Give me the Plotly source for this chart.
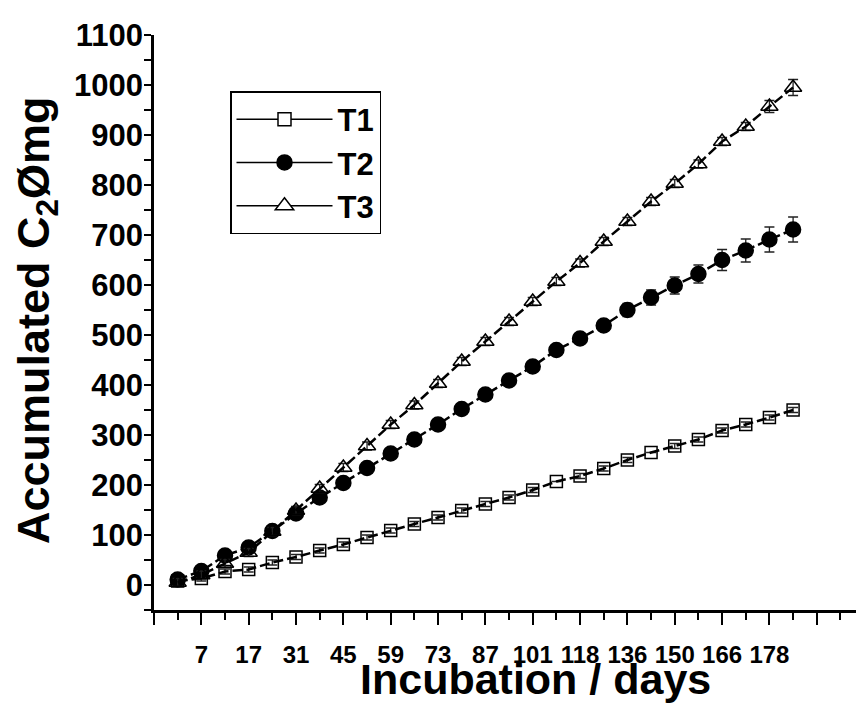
import plotly.graph_objects as go

# sample index along the x axis (points sit on every major and minor tick)
sample_idx = list(range(1, 28))
# labels shown on the major ticks (even sample indices)
tick_positions = [0, 2, 4, 6, 8, 10, 12, 14, 16, 18, 20, 22, 24, 26, 28, 30]
tick_labels = ["", "7", "17", "31", "45", "59", "73", "87", "101", "118", "136", "150", "166", "178", "", ""]

t1 = [8, 13, 27, 31, 45, 56, 69, 81, 95, 109, 122, 135, 149, 162, 175, 190, 207, 218, 233, 250, 265, 278, 291, 309, 321, 335, 350]
t1_err = [5, 5, 5, 5, 5, 5, 5, 5, 5, 5, 5, 5, 5, 5, 5, 5, 0, 5, 5, 5, 0, 5, 5, 5, 5, 5, 5]

t2 = [11, 28, 59, 75, 108, 143, 175, 204, 234, 263, 291, 321, 352, 381, 409, 437, 470, 493, 519, 550, 575, 599, 622, 650, 669, 691, 711]
t2_err = [3, 3, 4, 4, 5, 5, 5, 5, 6, 6, 6, 7, 7, 8, 8, 8, 9, 9, 10, 13, 15, 17, 18, 21, 23, 25, 25]

t3 = [5, 20, 43, 65, 107, 149, 193, 235, 278, 321, 360, 403, 447, 487, 527, 567, 607, 644, 687, 727, 767, 803, 842, 887, 917, 957, 995]
t3_err = [8, 8, 8, 8, 8, 8, 8, 8, 8, 8, 8, 8, 8, 8, 8, 8, 8, 8, 8, 8, 8, 8, 8, 8, 8, 12, 16]

FONT = "Arial, Liberation Sans, sans-serif"
fig = go.Figure()

series = [
    ("T1", t1, t1_err, "square-open", 12),
    ("T2", t2, t2_err, "circle", 15),
    ("T3", t3, t3_err, "triangle-up-open", 15),
]
for name, vals, err, sym, size in series:
    fig.add_trace(go.Scatter(
        x=sample_idx, y=vals, mode="lines+markers", name=name, showlegend=False,
        line=dict(color="black", width=2.5, dash="10px,4px"),
        marker=dict(symbol=sym, size=size, color="black", line=dict(color="black", width=1.5)),
        error_y=dict(type="data", array=err, visible=True, color="#222", thickness=1.3, width=5),
    ))

legend_symbols = [("T1", "square", "white", 13), ("T2", "circle", "black", 15), ("T3", "triangle-up", "white", 16)]
for name, sym, fill, size in legend_symbols:
    fig.add_trace(go.Scatter(
        x=[None], y=[None], mode="lines+markers", name=name,
        line=dict(color="black", width=1.5),
        marker=dict(symbol=sym, size=size, color=fill, line=dict(color="black", width=1.5)),
    ))

# page body adds an 8px offset; plot area on screen: x 154..864, y 35..610
L, T, W, H = 146, 27, 718, 575
fig.update_layout(
    width=864, height=705,
    margin=dict(l=L, r=0, t=T, b=705 - T - H, autoexpand=False),
    plot_bgcolor="white", paper_bgcolor="white",
    font=dict(family=FONT, color="black"),
    showlegend=True,
    legend=dict(
        x=(222 - L) / W, y=(T + H - 83) / H, xanchor="left", yanchor="top",
        bordercolor="black", borderwidth=1.5, bgcolor="white",
        font=dict(family=FONT, size=31, weight="bold", color="black"),
        itemwidth=96, tracegroupgap=0,
    ),
    xaxis=dict(
        range=[0, W / 23.67], showgrid=False, zeroline=False, automargin=False,
        showline=True, linecolor="black", linewidth=2.5,
        tickmode="array", tickvals=tick_positions, ticktext=tick_labels,
        ticks="outside", ticklen=12, tickwidth=2, tickcolor="black",
        ticklabelstandoff=9,
        tickfont=dict(family=FONT, size=24, weight="bold", color="black"),
        minor=dict(tickmode="linear", tick0=1, dtick=2, ticks="outside", ticklen=7, tickwidth=2, tickcolor="black"),
    ),
    yaxis=dict(
        range=[-50, 1100], showgrid=False, zeroline=False, automargin=False,
        showline=True, linecolor="black", linewidth=2.5,
        tickmode="linear", tick0=0, dtick=100,
        ticks="outside", ticklen=7, tickwidth=2, tickcolor="black",
        ticklabelstandoff=-5,
        tickfont=dict(family=FONT, size=31, weight="bold", color="black"),
        minor=dict(tickmode="linear", tick0=50, dtick=100, ticks="outside", ticklen=7, tickwidth=2, tickcolor="black"),
    ),
    annotations=[
        dict(
            text="Incubation / days", xref="paper", yref="paper",
            x=(527 - L) / W, y=(T + H - 671) / H, xanchor="center", yanchor="middle",
            showarrow=False, font=dict(family=FONT, size=43, weight="bold", color="black"),
        ),
        dict(
            text="Accumulated C<sub>2</sub>Ømg", xref="paper", yref="paper", textangle=-90,
            x=(28 - L) / W, y=(T + H - 312) / H, xanchor="center", yanchor="middle",
            showarrow=False, font=dict(family=FONT, size=45, weight="bold", color="black"),
        ),
    ],
)

fig.write_html("out.html")
